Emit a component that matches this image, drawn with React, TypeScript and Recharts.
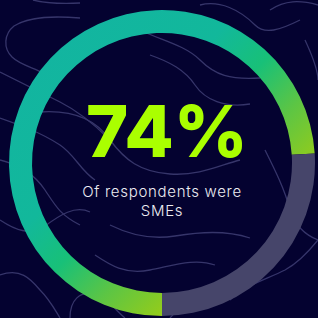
import { PieChart, Pie, Cell, Label } from "recharts";

const segments = ["SMEs", "Other respondents"];
const shares = [74, 26];
const headline = "74%";
const captionLines = ["Of respondents were", "SMEs"];

const data = segments.map((name, i) => ({ name, value: shares[i] }));

const BG = "#040230";
const LINE = "#36356a";

// decorative topographic background lines
const contours = [
  "M33 0 C45 3 60 4 80 3",
  "M80 18 C55 16 30 16 14 26 C4 34 3 48 12 57 C20 65 35 68 43 73",
  "M0 72 C20 82 40 92 60 102 C80 112 95 125 110 140",
  "M0 118 C20 125 40 132 60 145 C75 155 80 170 95 180",
  "M0 160 C20 165 35 175 45 190 C55 205 60 215 80 225",
  "M0 220 C15 230 30 236 45 226 C60 215 75 205 90 212",
  "M0 275 C20 268 30 278 40 290 C50 300 55 310 60 318",
  "M70 318 C70 300 80 290 95 295 C110 300 115 310 125 318",
  "M40 112 C70 110 95 118 110 140 C125 160 140 172 170 174 C200 176 220 165 240 160",
  "M140 30 C160 40 185 45 200 60 C215 75 230 80 260 78",
  "M150 55 C170 62 185 70 195 85 C205 100 225 108 250 104",
  "M200 5 C220 0 240 10 255 25 C265 35 280 30 300 20",
  "M270 10 C285 0 300 0 318 5",
  "M305 40 C312 55 318 70 318 80",
  "M110 225 C130 235 150 240 175 236 C200 232 225 230 250 238",
  "M95 255 C110 265 125 275 150 270 C175 265 195 258 215 265",
  "M230 300 C245 285 265 280 285 270 C300 262 310 250 318 240",
  "M170 318 C185 300 205 292 225 296",
  "M265 150 C275 170 285 190 290 210 C295 225 305 235 318 240",
];

function CenterText(props: any) {
  const vb = props.viewBox || {};
  const cx = vb.cx ?? 162;
  const cy = vb.cy ?? 163;
  return (
    <g>
      <text
        x={cx + 5}
        y={cy - 6}
        textAnchor="middle"
        fill="#aaff00"
        fontFamily="Inter"
        fontWeight={800}
        fontSize={72}
      >
        {headline}
      </text>
      {captionLines.map((line, i) => (
        <text
          key={line}
          x={cx}
          y={cy + 34 + i * 19}
          textAnchor="middle"
          fill="#ececf2"
          fontFamily="Inter"
          fontWeight={300}
          fontSize={15}
          letterSpacing={0.7}
        >
          {line}
        </text>
      ))}
    </g>
  );
}

export default function App() {
  return (
    <div style={{ position: "absolute", left: 0, top: 0, width: 318, height: 318, background: BG, overflow: "hidden" }}>
      <svg width={318} height={318} style={{ position: "absolute", left: 0, top: 0 }}>
        {contours.map((d, i) => (
          <path key={i} d={d} fill="none" stroke={LINE} strokeWidth={1.3} />
        ))}
      </svg>
      <div style={{ position: "absolute", left: 0, top: 0 }}>
        <PieChart width={318} height={318} margin={{ top: 0, right: 0, bottom: 0, left: 0 }}>
          <defs>
            <linearGradient id="ringGrad" x1="0" y1="0" x2="1" y2="1">
              <stop offset="0" stopColor="#13b3a3" />
              <stop offset="0.38" stopColor="#12b89b" />
              <stop offset="0.5" stopColor="#18c078" />
              <stop offset="0.62" stopColor="#5bc545" />
              <stop offset="0.75" stopColor="#95cc1a" />
              <stop offset="1" stopColor="#a8d20a" />
            </linearGradient>
          </defs>
          <Pie
            data={data}
            dataKey="value"
            nameKey="name"
            cx={162}
            cy={163}
            innerRadius={130}
            outerRadius={153}
            startAngle={-90}
            endAngle={-450}
            stroke="none"
            isAnimationActive={false}
          >
            <Cell fill="url(#ringGrad)" />
            <Cell fill="#46456a" />
            <Label position="center" content={<CenterText />} />
          </Pie>
        </PieChart>
      </div>
    </div>
  );
}
